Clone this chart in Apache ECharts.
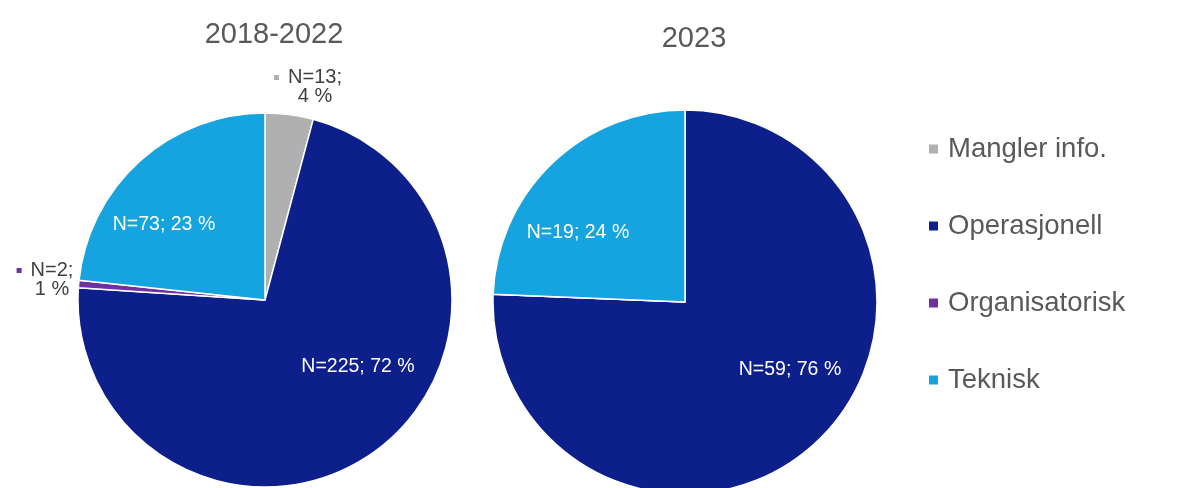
<!DOCTYPE html>
<html>
<head>
<meta charset="utf-8">
<script src="https://cdn.jsdelivr.net/npm/echarts@6/dist/echarts.min.js"></script>
<style>
  html, body { margin: 0; padding: 0; background: #ffffff; }
  #chart { width: 1189px; height: 488px; }
</style>
</head>
<body>
<div id="chart"></div>
<script>
// Categories (legend order, also the clockwise slice order from 12 o'clock)
const categories = ['Mangler info.', 'Operasjonell', 'Organisatorisk', 'Teknisk'];
const periods = ['2018-2022', '2023'];
// Number of cases per category and period
const counts20182022 = [13, 225, 2, 73];
const counts2023 = [0, 59, 0, 19];

const colors = ['#b0b0b0', '#0c1f8a', '#7030a0', '#15a4df'];
const FONT = '"Liberation Sans", Arial, sans-serif';

// Where each slice's label sits (series index -> data index -> [x, y])
const labelAnchors = [
  { 0: [308, 87], 1: [358, 367], 2: [45, 280], 3: [164, 225] },
  { 1: [790, 370], 3: [578, 233] }
];

const markerRich = {};
colors.forEach((c, i) => {
  markerRich['m' + i] = { width: 5, height: 5, backgroundColor: c, verticalAlign: 'middle' };
});
markerRich.b = { width: 5, height: 5 };
markerRich.g = { width: 9 };
markerRich.t = { fontSize: 20, color: '#404040', fontFamily: FONT, lineHeight: 19 };

function buildData(counts) {
  const total = counts.reduce((a, b) => a + b, 0);
  return categories.map((name, i) => {
    const share = total ? counts[i] / total : 0;
    const outside = share > 0 && share < 0.05;
    return {
      name,
      value: counts[i],
      itemStyle: { color: colors[i] },
      label: outside
        ? { position: 'outside', color: '#404040', rich: markerRich }
        : { position: 'inside', color: '#ffffff', fontSize: 19.5, fontFamily: FONT }
    };
  });
}

function labelText(p) {
  if (!p.value) return '';
  const pct = Math.round(p.percent);
  const idx = categories.indexOf(p.name);
  if (p.percent < 5) {
    return '{m' + idx + '|}{g|}{t|N=' + p.value + ';}\n{b|}{g|}{t|' + pct + ' %}';
  }
  return 'N=' + p.value + '; ' + pct + ' %';
}

function pieSeries(idx, counts, center, radius) {
  return {
    type: 'pie',
    name: periods[idx],
    center,
    radius,
    startAngle: 90,
    clockwise: true,
    avoidLabelOverlap: false,
    itemStyle: { borderColor: '#ffffff', borderWidth: 1.5 },
    label: { show: true, formatter: labelText },
    labelLine: { show: false },
    emphasis: { disabled: true },
    labelLayout: function (params) {
      const a = labelAnchors[idx][params.dataIndex];
      if (!a) return {};
      return { x: a[0], y: a[1], align: 'center', verticalAlign: 'middle' };
    },
    data: buildData(counts)
  };
}

const titleStyle = { color: '#595959', fontWeight: 'normal', fontSize: 29, fontFamily: FONT };

const chart = echarts.init(document.getElementById('chart'), null, { renderer: 'canvas' });
chart.setOption({
  animation: false,
  backgroundColor: '#ffffff',
  title: [
    { text: periods[0], left: 269, top: 15, textAlign: 'center', textStyle: titleStyle },
    { text: periods[1], left: 689, top: 19, textAlign: 'center', textStyle: titleStyle }
  ],
  legend: {
    orient: 'vertical',
    left: 922,
    top: 129,
    icon: 'rect',
    itemWidth: 11,
    itemHeight: 11,
    itemGap: 47,
    selectedMode: false,
    data: categories,
    textStyle: { color: '#595959', fontSize: 27.5, fontFamily: FONT, lineHeight: 30, padding: [0, 0, 0, 4] }
  },
  series: [
    pieSeries(0, counts20182022, [265, 300], 187),
    pieSeries(1, counts2023, [685, 302], 192)
  ]
});
</script>
</body>
</html>
